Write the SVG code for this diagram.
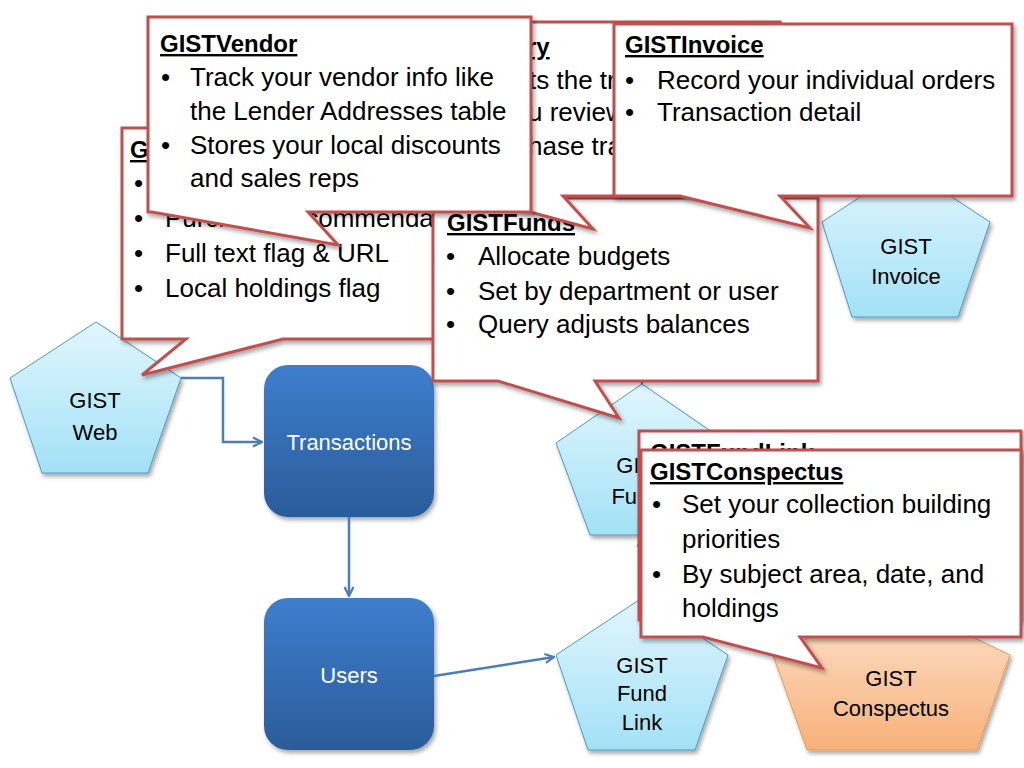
<svg xmlns="http://www.w3.org/2000/svg" width="1024" height="768" viewBox="0 0 1024 768">
<defs>
<linearGradient id="gBlue" x1="0" y1="0" x2="0" y2="1"><stop offset="0" stop-color="#e2f6fd"/><stop offset="1" stop-color="#a2e1f6"/></linearGradient>
<linearGradient id="gOrange" x1="0" y1="0" x2="0" y2="1"><stop offset="0" stop-color="#fde4d0"/><stop offset="1" stop-color="#f8b179"/></linearGradient>
<linearGradient id="gBox" x1="0" y1="0" x2="0" y2="1"><stop offset="0" stop-color="#3e7ecd"/><stop offset="1" stop-color="#2b5c9a"/></linearGradient>
<filter id="sh" x="-10%" y="-10%" width="130%" height="130%"><feDropShadow dx="2" dy="3" stdDeviation="2" flood-color="#000" flood-opacity="0.35"/></filter>
<marker id="arr" viewBox="0 0 10 10" refX="9" refY="5" markerWidth="4.5" markerHeight="4.5" orient="auto" markerUnits="strokeWidth"><path d="M1,1 L9,5 L1,9" fill="none" stroke="#4a7ebb" stroke-width="2"/></marker>
</defs>
<style>
.pent{fill:url(#gBlue);stroke:#4a9bc0;stroke-width:1;filter:url(#sh)}
.pento{fill:url(#gOrange);stroke:#e59a5a;stroke-width:1;filter:url(#sh)}
.box{fill:url(#gBox);filter:url(#sh)}
.lbl{font-family:"Liberation Sans",Arial,sans-serif;font-size:22px;text-anchor:middle;fill:#000}
.wl{font-family:"Liberation Sans",Arial,sans-serif;font-size:22px;text-anchor:middle;fill:#fff}
.co{fill:#fff;stroke:#c0504d;stroke-width:3;stroke-linejoin:miter;filter:url(#sh)}
.t{font-family:"Liberation Sans",Arial,sans-serif;font-size:26px;fill:#000}
.h{font-family:"Liberation Sans",Arial,sans-serif;font-size:24px;font-weight:bold;text-decoration:underline;fill:#000}
.conn{fill:none;stroke:#4a7ebb;stroke-width:2.5;marker-end:url(#arr)}
</style>
<rect width="1024" height="768" fill="#fff"/>

<g id="gist-web"><path class="pent" d="M96,322 L181,378 L148,473 L42,473 L10,378 Z"/><text class="lbl" x="95" y="408">GIST</text><text class="lbl" x="95" y="440">Web</text></g>
<g id="gist-invoice"><path class="pent" d="M906,167 L990,222 L958,317 L852,317 L822,222 Z"/><text class="lbl" x="906" y="254">GIST</text><text class="lbl" x="906" y="284">Invoice</text></g>
<g id="gist-funds"><path class="pent" d="M642,384 L728,443 L694,535 L590,535 L556,443 Z"/><text class="lbl" x="642" y="473">GIST</text><text class="lbl" x="642" y="504">Funds</text></g>
<g id="gist-fund-link"><path class="pent" d="M642,598 L728,655 L695,750 L588,750 L556,655 Z"/><text class="lbl" x="642" y="673">GIST</text><text class="lbl" x="642" y="701">Fund</text><text class="lbl" x="642" y="730">Link</text></g>
<g id="gist-conspectus"><path class="pento" d="M891,598 L1010,655 L977,750 L807,750 L773,655 Z"/><text class="lbl" x="891" y="686">GIST</text><text class="lbl" x="891" y="716">Conspectus</text></g>
<g id="transactions"><rect class="box" x="264" y="365" width="170" height="152" rx="24"/><text class="wl" x="349" y="450">Transactions</text></g>
<g id="users"><rect class="box" x="264" y="598" width="170" height="152" rx="24"/><text class="wl" x="349" y="683">Users</text></g>

<g id="connectors">
<path class="conn" d="M181,378 H223 V442 H262"/>
<path class="conn" d="M349,517 V596"/>
<path class="conn" d="M434,676 L554,657"/>
<path class="conn" d="M642,598 V538"/>
<path class="conn" d="M642,330 V383"/>
</g>

<g id="callout-web">
<path class="co" d="M122,128 H480 V339 H283 L142,375 L186,339 H122 Z"/>
<text class="h" x="130" y="158">G</text>
<text class="t" x="134" y="192">•</text>
<text class="t" x="134" y="227">•</text><text class="t" x="165" y="227">Purchase recommendat</text>
<text class="t" x="134" y="262">•</text><text class="t" x="165" y="262">Full text flag &amp; URL</text>
<text class="t" x="134" y="297">•</text><text class="t" x="165" y="297">Local holdings flag</text>
</g>

<g id="callout-funds">
<path class="co" d="M433,198 H818 V381 H595 L619,418 L498,381 H433 Z"/>
<text class="h" x="447" y="231">GISTFunds</text>
<text class="t" x="446" y="265">•</text><text class="t" x="478" y="265">Allocate budgets</text>
<text class="t" x="446" y="300">•</text><text class="t" x="478" y="300">Set by department or user</text>
<text class="t" x="446" y="333">•</text><text class="t" x="478" y="333">Query adjusts balances</text>
</g>

<g id="callout-ry">
<path class="co" d="M440,22 H780 V196 H563 L593,229 L471,196 H440 Z"/>
<text class="h" x="527" y="55">ry</text>
<text class="t" x="529" y="89">ts the tr</text>
<text class="t" x="528" y="121">u review</text>
<text class="t" x="528" y="155">hase tra</text>
</g>

<g id="callout-vendor">
<path class="co" d="M148,17 H531 V212 H308 L338,245 L152,212 H148 Z"/>
<text class="h" x="160" y="52">GISTVendor</text>
<text class="t" x="161" y="86">•</text><text class="t" x="190" y="86">Track your vendor info like</text>
<text class="t" x="190" y="120">the Lender Addresses table</text>
<text class="t" x="161" y="154">•</text><text class="t" x="190" y="154">Stores your local discounts</text>
<text class="t" x="190" y="187">and sales reps</text>
</g>

<g id="callout-invoice">
<path class="co" d="M614,24 H1012 V196 H780 L810,228 L680,196 H614 Z"/>
<text class="h" x="625" y="53">GISTInvoice</text>
<text class="t" x="625" y="89">•</text><text class="t" x="657" y="89">Record your individual orders</text>
<text class="t" x="625" y="121">•</text><text class="t" x="657" y="121">Transaction detail</text>
</g>

<g id="callout-fundlink">
<path class="co" d="M639,431 H1021 V620 H639 Z"/>
<text class="h" x="650" y="461">GISTFundLink</text>
</g>

<g id="callout-conspectus">
<path class="co" d="M641,450 H1021 V637 H800 L822,668 L703,637 H641 Z"/>
<text class="h" x="650" y="480">GISTConspectus</text>
<text class="t" x="652" y="513">•</text><text class="t" x="682" y="513">Set your collection building</text>
<text class="t" x="682" y="548">priorities</text>
<text class="t" x="652" y="583">•</text><text class="t" x="682" y="583">By subject area, date, and</text>
<text class="t" x="682" y="617">holdings</text>
</g>
</svg>
